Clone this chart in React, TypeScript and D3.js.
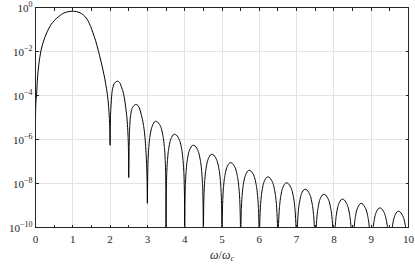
import React from "react";
import * as d3 from "d3";

// spectrum: [omega/omega_c, log10 |X|^2]
const mainLobe: [number, number][] = [
  [0, -5.05], [0.005, -4.6], [0.012, -4.3], [0.027, -4.0], [0.05, -3.3],
  [0.075, -2.8], [0.1, -2.45], [0.14, -2.02], [0.2, -1.62], [0.25, -1.36],
  [0.32, -1.08], [0.38, -0.88], [0.46, -0.68], [0.56, -0.5], [0.65, -0.37],
  [0.74, -0.27], [0.85, -0.2], [0.99, -0.17], [1.1, -0.19], [1.23, -0.27],
  [1.32, -0.4], [1.4, -0.58], [1.48, -0.87], [1.54, -1.15], [1.61, -1.5],
  [1.69, -2.0], [1.79, -2.7], [1.88, -3.45], [1.93, -4.0], [1.96, -4.5],
  [1.98, -5.05], [1.993, -5.6], [2.0, -6.26],
];

const firstSideLobes: [number, number][] = [
  [2.004, -5.6], [2.01, -5.0], [2.02, -4.6], [2.04, -4.06], [2.08, -3.6],
  [2.13, -3.42], [2.2, -3.35], [2.27, -3.45], [2.3, -3.6], [2.35, -3.85],
  [2.39, -4.2], [2.43, -4.7], [2.46, -5.2], [2.48, -5.8], [2.49, -6.3],
  [2.496, -6.9], [2.5, -7.73],
  [2.503, -7.2], [2.508, -6.5], [2.515, -5.9], [2.53, -5.3], [2.56, -4.8],
  [2.61, -4.52], [2.7, -4.41], [2.78, -4.55], [2.84, -4.9], [2.89, -5.3],
  [2.935, -5.9], [2.96, -6.5], [2.98, -7.2], [2.993, -8.0], [3.0, -8.9],
  [3.004, -8.2], [3.011, -7.41], [3.023, -6.79], [3.046, -6.19], [3.083, -5.71],
  [3.147, -5.32], [3.22, -5.17], [3.327, -5.32], [3.403, -5.71], [3.446, -6.19],
  [3.473, -6.79], [3.487, -7.41], [3.496, -8.37], [3.5, -12],
];

const tailLobes: [number, number][] = [
  [3.504, -8.96], [3.511, -8.0], [3.523, -7.38], [3.546, -6.78], [3.583, -6.3], [3.647, -5.91], [3.73, -5.76],
  [3.827, -5.91], [3.903, -6.3], [3.946, -6.78], [3.973, -7.38], [3.987, -8.0], [3.996, -8.96], [4.0, -12],
  [4.004, -9.46], [4.011, -8.5], [4.023, -7.88], [4.046, -7.28], [4.083, -6.8], [4.147, -6.41], [4.23, -6.26],
  [4.327, -6.41], [4.403, -6.8], [4.446, -7.28], [4.473, -7.88], [4.487, -8.5], [4.496, -9.46], [4.5, -12],
  [4.504, -9.87], [4.511, -8.91], [4.523, -8.29], [4.546, -7.69], [4.583, -7.21], [4.647, -6.82], [4.73, -6.67],
  [4.827, -6.82], [4.903, -7.21], [4.946, -7.69], [4.973, -8.29], [4.987, -8.91], [4.996, -9.87], [5.0, -12],
  [5.004, -10.25], [5.011, -9.29], [5.023, -8.67], [5.046, -8.07], [5.083, -7.59], [5.147, -7.2], [5.23, -7.05],
  [5.327, -7.2], [5.403, -7.59], [5.446, -8.07], [5.473, -8.67], [5.487, -9.29], [5.496, -10.25], [5.5, -12],
  [5.504, -10.6], [5.511, -9.64], [5.523, -9.02], [5.546, -8.42], [5.583, -7.94], [5.647, -7.55], [5.73, -7.4],
  [5.827, -7.55], [5.903, -7.94], [5.946, -8.42], [5.973, -9.02], [5.987, -9.64], [5.996, -10.6], [6.0, -12],
  [6.004, -10.9], [6.011, -9.94], [6.023, -9.32], [6.046, -8.72], [6.083, -8.24], [6.147, -7.85], [6.23, -7.7],
  [6.327, -7.85], [6.403, -8.24], [6.446, -8.72], [6.473, -9.32], [6.487, -9.94], [6.496, -10.9], [6.5, -12],
  [6.504, -11.17], [6.511, -10.21], [6.523, -9.59], [6.546, -8.99], [6.583, -8.51], [6.647, -8.12], [6.73, -7.97],
  [6.827, -8.12], [6.903, -8.51], [6.946, -8.99], [6.973, -9.59], [6.987, -10.21], [6.996, -11.17], [7.0, -12],
  [7.004, -11.46], [7.011, -10.5], [7.023, -9.88], [7.046, -9.28], [7.083, -8.8], [7.147, -8.41], [7.23, -8.26],
  [7.327, -8.41], [7.403, -8.8], [7.446, -9.28], [7.473, -9.88], [7.487, -10.5], [7.496, -11.46], [7.5, -12],
  [7.504, -11.69], [7.511, -10.73], [7.523, -10.11], [7.546, -9.51], [7.583, -9.03], [7.647, -8.64], [7.73, -8.49],
  [7.827, -8.64], [7.903, -9.03], [7.946, -9.51], [7.973, -10.11], [7.987, -10.73], [7.996, -11.69], [8.0, -12],
  [8.004, -11.91], [8.011, -10.95], [8.023, -10.33], [8.046, -9.73], [8.083, -9.25], [8.147, -8.86], [8.23, -8.71],
  [8.327, -8.86], [8.403, -9.25], [8.446, -9.73], [8.473, -10.33], [8.487, -10.95], [8.496, -11.91], [8.5, -12],
  [8.504, -12], [8.511, -11.15], [8.523, -10.53], [8.546, -9.93], [8.583, -9.45], [8.647, -9.06], [8.73, -8.91],
  [8.827, -9.06], [8.903, -9.45], [8.946, -9.93], [8.973, -10.53], [8.987, -11.15], [8.996, -12], [9.0, -12],
  [9.004, -12], [9.011, -11.35], [9.023, -10.73], [9.046, -10.13], [9.083, -9.65], [9.147, -9.26], [9.23, -9.11],
  [9.327, -9.26], [9.403, -9.65], [9.446, -10.13], [9.473, -10.73], [9.487, -11.35], [9.496, -12], [9.5, -12],
  [9.504, -12], [9.511, -11.5], [9.523, -10.88], [9.546, -10.28], [9.583, -9.8], [9.647, -9.41], [9.73, -9.26],
  [9.827, -9.41], [9.903, -9.8], [9.946, -10.28], [9.973, -10.88], [9.987, -11.5], [9.996, -12], [10.0, -12],
];

const yExponents = [0, -2, -4, -6, -8, -10];
const xTickValues = [0, 1, 2, 3, 4, 5, 6, 7, 8, 9, 10];

const W = 415;
const H = 267;
const axisColor = "#262626";
const gridColor = "#e3e3e3";
const font = "'Liberation Serif', 'DejaVu Serif', serif";

export default function App() {
  const x = d3.scaleLinear().domain([0, 10]).range([35.5, 408.5]);
  const y = d3.scaleLog().domain([1e-10, 1]).range([227.5, 7.5]);

  const points = [...mainLobe, ...firstSideLobes, ...tailLobes];
  const lineGen = d3
    .line<[number, number]>()
    .x((d) => x(d[0]))
    .y((d) => y(Math.pow(10, d[1])))
    .curve(d3.curveMonotoneX);

  const [x0, x1] = x.range();
  const [yb, yt] = y.range();
  const minorX = x.ticks(20);

  return (
    <svg width={W} height={H} style={{ position: "absolute", left: 0, top: 0, background: "#fff" }}>
      <defs>
        <clipPath id="plotArea">
          <rect x={x0} y={yt} width={x1 - x0} height={yb - yt} />
        </clipPath>
      </defs>
      <rect x={0} y={0} width={W} height={H} fill="#fff" />

      {/* grid */}
      <g stroke={gridColor} strokeWidth={1} shapeRendering="crispEdges">
        {xTickValues.slice(1, -1).map((v) => (
          <line key={"gx" + v} x1={x(v)} x2={x(v)} y1={yt} y2={yb} />
        ))}
        {yExponents.slice(1, -1).map((e) => (
          <line key={"gy" + e} x1={x0} x2={x1} y1={y(Math.pow(10, e))} y2={y(Math.pow(10, e))} />
        ))}
      </g>

      {/* curve */}
      <path d={lineGen(points) || ""} fill="none" stroke="#000" strokeWidth={1} clipPath="url(#plotArea)" strokeLinejoin="round" />

      {/* box + ticks */}
      <g stroke={axisColor} strokeWidth={1} shapeRendering="crispEdges" fill="none">
        <rect x={x0} y={yt} width={x1 - x0} height={yb - yt} />
        {minorX.map((v) => (
          <g key={"tx" + v}>
            <line x1={x(v)} x2={x(v)} y1={yb} y2={yb - 3} />
            <line x1={x(v)} x2={x(v)} y1={yt} y2={yt + 3} />
          </g>
        ))}
        {yExponents.map((e) => (
          <g key={"ty" + e}>
            <line x1={x0} x2={x0 + 3} y1={y(Math.pow(10, e))} y2={y(Math.pow(10, e))} />
            <line x1={x1} x2={x1 - 3} y1={y(Math.pow(10, e))} y2={y(Math.pow(10, e))} />
          </g>
        ))}
      </g>

      {/* x tick labels */}
      <g fontFamily={font} fontSize={11} fill={axisColor} textAnchor="middle">
        {xTickValues.map((v) => (
          <text key={"lx" + v} x={x(v)} y={yb + 15}>
            {v}
          </text>
        ))}
      </g>

      {/* y tick labels */}
      <g fontFamily={font} fontSize={11} fill={axisColor} textAnchor="end">
        {yExponents.map((e) => (
          <text key={"ly" + e} x={x0 - 3} y={y(Math.pow(10, e)) + 4}>
            10
            <tspan dy={-5} fontSize={8}>
              {e === 0 ? "0" : "\u2212" + Math.abs(e)}
            </tspan>
          </text>
        ))}
      </g>

      {/* x label */}
      <text x={(x0 + x1) / 2} y={259} textAnchor="middle" fontFamily={font} fontSize={12} fill={axisColor}>
        <tspan fontStyle="italic">ω</tspan>
        <tspan>/</tspan>
        <tspan fontStyle="italic">ω</tspan>
        <tspan fontStyle="italic" fontSize={8} dy={2}>
          c
        </tspan>
      </text>
    </svg>
  );
}
